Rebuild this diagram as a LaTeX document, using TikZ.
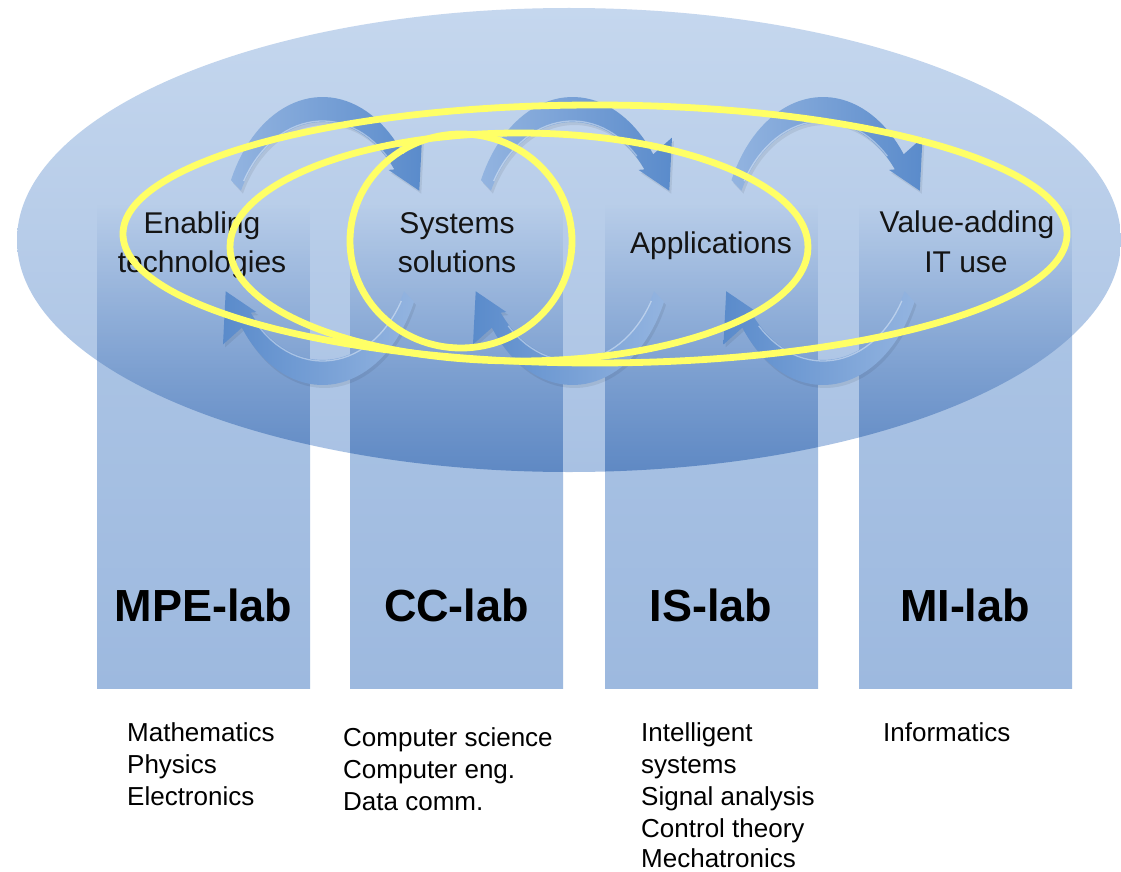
\documentclass[tikz,border=0pt]{standalone}
\usepackage{fontspec}
\setmainfont{Liberation Sans}
\usetikzlibrary{fadings}
\definecolor{ellTop}{HTML}{C5D7EE}
\definecolor{ellBot}{HTML}{A8C1E3}
\definecolor{colTop}{HTML}{AFC7E6}
\definecolor{colBot}{HTML}{9DB9DF}
\definecolor{colDark}{HTML}{5F89C4}
\definecolor{arrDark}{HTML}{5A8BCB}
\definecolor{arrLight}{HTML}{93B4E0}
\definecolor{hiYellow}{HTML}{FFFF66}
\tikzfading[name=coldown, top color=transparent!100, bottom color=transparent!0]
\tikzset{
  colbox/.style={top color=colTop, bottom color=colBot},
  coldarken/.style={fill=colDark, path fading=coldown},
  bigell/.style={top color=ellTop, bottom color=ellBot},
  looptop/.style={left color=arrLight, right color=arrDark},
  loopbot/.style={left color=arrDark, right color=arrLight},
  loopshadow/.style={fill=black, fill opacity=0.07},
  innerlight/.style={draw=white, draw opacity=0.4, line width=1.3pt},
  toplabel/.style={font=\fontsize{30}{36}\selectfont, anchor=base, inner sep=0pt, text=black!92},
  lablabel/.style={font=\bfseries\fontsize{45}{54}\selectfont, anchor=base, inner sep=0pt},
  listtext/.style={font=\fontsize{26}{32}\selectfont, anchor=base west, inner sep=0pt},
  yellowring/.style={draw=hiYellow, line width=6.8pt}
}
\begin{document}
\begin{tikzpicture}[x=1pt,y=-1pt]
\useasboundingbox (0,0) rectangle (1121,872);
\fill[white] (0,0) rectangle (1121,872);
% columns (behind)
\foreach \l in {97,350,605,859}{
  \shade[colbox] (\l,205) rectangle ++(213,483);
}
% big ellipse
\shade[bigell] (569,240) ellipse [x radius=552, y radius=232];
% darker column parts inside the ellipse
\begin{scope}
  \clip (569,240) ellipse [x radius=552, y radius=232];
  \foreach \l in {97,350,605,859}{
    \fill[coldarken] (\l,205) rectangle ++(213,268);
  }
\end{scope}
% circular arrows
\foreach \cx in {322.5,572.5,823}{
  \begin{scope}[shift={(2,3)}]
  \path[loopshadow] plot[domain=155:37,samples=40] ({\cx+101*cos(\x)},{241-144*sin(\x)})
    -- ({\cx+123*cos(36)},{241-176*sin(36)})
    -- ({\cx+103*cos(20)},{241-147*sin(20)})
    -- ({\cx+85*cos(39)},{241-113*sin(39)})
    -- plot[domain=37:155,samples=40] ({\cx+90*cos(\x)},{241-119*sin(\x)}) -- cycle;
  \path[loopshadow] plot[domain=-25:-143,samples=40] ({\cx+101*cos(\x)},{241-144*sin(\x)})
    -- ({\cx+123*cos(-144)},{241-176*sin(-144)})
    -- ({\cx+103*cos(-160)},{241-147*sin(-160)})
    -- ({\cx+85*cos(-141)},{241-113*sin(-141)})
    -- plot[domain=-143:-25,samples=40] ({\cx+90*cos(\x)},{241-119*sin(\x)}) -- cycle;
  \end{scope}
  \path[looptop] plot[domain=155:37,samples=40] ({\cx+101*cos(\x)},{241-144*sin(\x)})
    -- ({\cx+123*cos(36)},{241-176*sin(36)})
    -- ({\cx+103*cos(20)},{241-147*sin(20)})
    -- ({\cx+85*cos(39)},{241-113*sin(39)})
    -- plot[domain=37:155,samples=40] ({\cx+90*cos(\x)},{241-119*sin(\x)}) -- cycle;
  \path[loopbot] plot[domain=-25:-143,samples=40] ({\cx+101*cos(\x)},{241-144*sin(\x)})
    -- ({\cx+123*cos(-144)},{241-176*sin(-144)})
    -- ({\cx+103*cos(-160)},{241-147*sin(-160)})
    -- ({\cx+85*cos(-141)},{241-113*sin(-141)})
    -- plot[domain=-143:-25,samples=40] ({\cx+90*cos(\x)},{241-119*sin(\x)}) -- cycle;
  \draw[innerlight] plot[domain=150:45,samples=30] ({\cx+91*cos(\x)},{241-120*sin(\x)});
  \draw[innerlight] plot[domain=-30:-135,samples=30] ({\cx+91*cos(\x)},{241-120*sin(\x)});
}
% labels in the ellipse
\node[toplabel] (en1) at (202,233) {Enabling};
\node[toplabel] (en2) at (202,272) {technologies};
\node[toplabel] (sy1) at (457,233) {Systems};
\node[toplabel] (sy2) at (457,272) {solutions};
\node[toplabel] (ap1) at (711,253) {Applications};
\node[toplabel] (va1) at (967,232) {Value-adding};
\node[toplabel] (va2) at (966,272) {IT use};
% yellow rings
\draw[yellowring] (595,234) ellipse [x radius=472, y radius=129];
\draw[yellowring] (519,247) ellipse [x radius=289, y radius=114];
\draw[yellowring] (461,241) ellipse [x radius=111, y radius=107];
% lab names
\node[lablabel] (mpe) at (203.5,621) {MPE-lab};
\node[lablabel] (cc) at (456.5,621) {CC-lab};
\node[lablabel] (is) at (711,621) {IS-lab};
\node[lablabel] (mi) at (965,621) {MI-lab};
% lists
\node[listtext] (m1) at (127,741) {Mathematics};
\node[listtext] (m2) at (127,773) {Physics};
\node[listtext] (m3) at (127,805) {Electronics};
\node[listtext] (c1) at (343,746) {Computer science};
\node[listtext] (c2) at (343,778) {Computer eng.};
\node[listtext] (c3) at (343,810) {Data comm.};
\node[listtext] (i1) at (641,741) {Intelligent};
\node[listtext] (i2) at (641,773) {systems};
\node[listtext] (i3) at (641,805) {Signal analysis};
\node[listtext] (i4) at (641,837) {Control theory};
\node[listtext] (i5) at (641,867) {Mechatronics};
\node[listtext] (f1) at (883,741) {Informatics};
\end{tikzpicture}
\end{document}
